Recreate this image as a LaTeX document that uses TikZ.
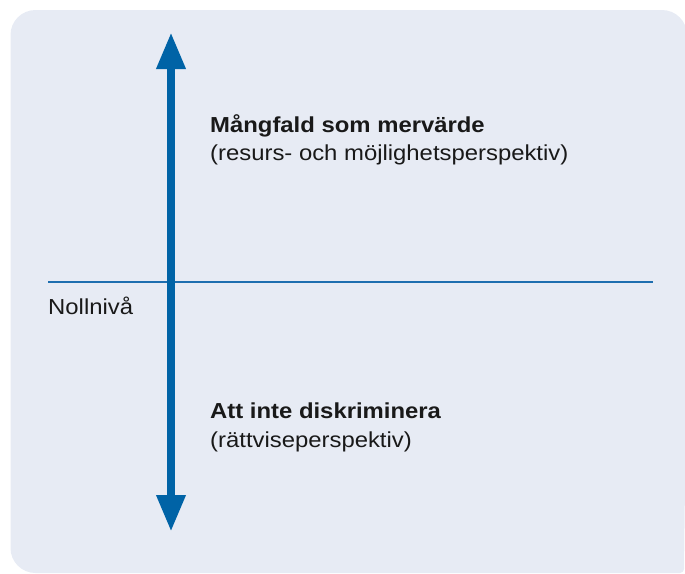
\documentclass[tikz,border=0pt]{standalone}
\usepackage{fontspec}
\setmainfont[FakeStretch=1.1]{Liberation Sans}
\usetikzlibrary{arrows.meta}
\definecolor{bgc}{RGB}{231,235,244}
\definecolor{arrowc}{RGB}{0,99,166}
\definecolor{linec}{RGB}{30,110,175}
\definecolor{txtc}{RGB}{25,25,25}
\tikzset{
  lbl/.style={anchor=base west, inner sep=0pt, text=txtc, font=\fontsize{21.7}{26}\selectfont},
  titlelbl/.style={lbl, font=\fontsize{21.7}{26}\selectfont\bfseries},
  bigarrow/.style={arrowc, line width=8.3pt,
    {Triangle[length=36.7pt,width=27.4pt]}-{Triangle[length=36.7pt,width=27.4pt]}},
}
\begin{document}
\begin{tikzpicture}[x=1pt,y=-1pt]
\useasboundingbox (0,0) rectangle (685,573);
\fill[bgc] (10.5,300) [rounded corners=25] -- (10.5,10) -- (687,10) -- (687,300)
  [rounded corners=4] -- (684,573) [rounded corners=25] -- (10.5,573) -- cycle;
\coordinate (hl) at (48,282);
\coordinate (hr) at (653,282);
\draw[linec, line width=1.3pt] (hl) -- (hr);
\coordinate (atop) at (171,32.3);
\coordinate (abot) at (171,531.7);
\draw[bigarrow] (atop) -- (abot);
\node[lbl] (noll) at (48,314) {Nollnivå};
\node[titlelbl] (t1) at (210,132) {Mångfald som mervärde};
\node[lbl] (s1) at (210,160.5) {(resurs- och möjlighetsperspektiv)};
\node[titlelbl] (t2) at (210,418) {Att inte diskriminera};
\node[lbl] (s2) at (210,447) {(rättviseperspektiv)};
\end{tikzpicture}
\end{document}
